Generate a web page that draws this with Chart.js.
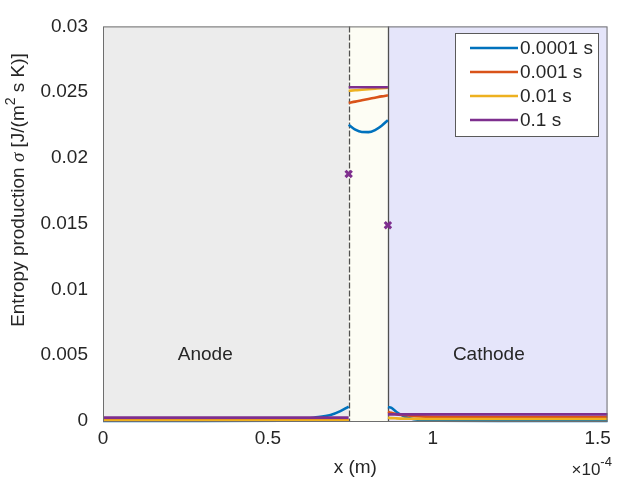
<!DOCTYPE html>
<html>
<head>
<meta charset="utf-8">
<script src="https://cdn.jsdelivr.net/npm/chart.js@4/dist/chart.umd.min.js"></script>
<style>
  html, body { margin: 0; padding: 0; background: #fff; }
  canvas { display: block; }
</style>
</head>
<body>
<canvas id="grafico" width="617" height="482"></canvas>
<script>
// x in units of 1e-4 m, sigma in J/(m^2 s K)
let seriesLabels = ["0.0001 s", "0.001 s", "0.01 s", "0.1 s"];
let seriesColors = ["#0072BD", "#D95319", "#EDB120", "#7E2F8E"];

let xRegions = [0, 0.745, 0.864, 1.53];
let regionColors = ["#ECECEC", "#FDFDF4", "#E5E5FA"];
let regionLabels = ["Anode", "Cathode"];
let regionLabelX = [0.31, 1.17];
let regionLabelY = [0.005, 0.005];

let xTicks = [0, 0.5, 1, 1.5];
let yTicks = [0, 0.005, 0.01, 0.015, 0.02, 0.025, 0.03];

let xAnode = [0, 0.3, 0.55, 0.6, 0.64, 0.69, 0.72, 0.745];
let anodeSigma = [
    [0.00001, 0.00001, 0.00003, 0.00012, 0.00025, 0.00046, 0.00075, 0.0011],
    [0.00005, 0.00005, 0.00005, 0.00005, 0.00005, 0.00005, 0.00005, 0.00005],
    [0.00003, 0.00003, 0.00003, 0.00003, 0.00003, 0.00003, 0.00003, 0.00003],
    [0.00026, 0.00026, 0.00026, 0.00026, 0.00026, 0.00026, 0.00026, 0.00026]
];

let xMembrane = [0.745, 0.765, 0.785, 0.805, 0.825, 0.845, 0.864];
let membraneSigma = [
    [0.02252, 0.02215, 0.02197, 0.02196, 0.02212, 0.02245, 0.02287],
    [0.02419, 0.02428, 0.02438, 0.02448, 0.02458, 0.02468, 0.02476],
    [0.02511, 0.02514, 0.02518, 0.02522, 0.02526, 0.0253, 0.02533],
    [0.02537, 0.02537, 0.02537, 0.02537, 0.02537, 0.02537, 0.02537]
];

let xCathode = [0.864, 0.875, 0.89, 0.91, 0.93, 0.96, 1.0, 1.2, 1.53];
let cathodeSigma = [
    [0.00105, 0.001, 0.00068, 0.0004, 0.0002, 0.00007, 0.00002, 0.00001, 0.00001],
    [0.0007, 0.00062, 0.00052, 0.00045, 0.0004, 0.00035, 0.00032, 0.0003, 0.0003],
    [0.00025, 0.00022, 0.0002, 0.00018, 0.00017, 0.00016, 0.00015, 0.00015, 0.00015],
    [0.0005, 0.0005, 0.0005, 0.0005, 0.0005, 0.0005, 0.0005, 0.0005, 0.0005]
];

let markerX = [0.745, 0.864];
let markerY = [0.01878, 0.01489];

let fontName = '"Liberation Sans", Arial, Helvetica, sans-serif';
let textColor = "#262626";
let frameColor = "#6e6e6e";

function buildSeries(i) {
    let pts = [];
    xAnode.forEach((x, j) => pts.push({ x: x, y: anodeSigma[i][j] }));
    pts.push({ x: xRegions[1], y: null });
    xMembrane.forEach((x, j) => pts.push({ x: x, y: membraneSigma[i][j] }));
    pts.push({ x: xRegions[2], y: null });
    xCathode.forEach((x, j) => pts.push({ x: x, y: cathodeSigma[i][j] }));
    return pts;
}

let datasets = seriesLabels.map((label, i) => ({
    label: label,
    data: buildSeries(i),
    borderColor: seriesColors[i],
    borderWidth: 2.6,
    pointRadius: 0,
    cubicInterpolationMode: "monotone",
    spanGaps: false,
    clip: 6,
    order: seriesLabels.length - i
}));

datasets.push({
    label: "markers",
    type: "scatter",
    data: markerX.map((x, j) => ({ x: x, y: markerY[j] })),
    showLine: false,
    pointStyle: "crossRot",
    pointRadius: 4.5,
    borderWidth: 3,
    borderColor: seriesColors[3],
    order: 0
});

let regionsPlugin = {
    id: "regions",
    beforeDatasetsDraw(chart) {
        let { ctx, chartArea, scales } = chart;
        ctx.save();
        for (let i = 0; i < regionColors.length; i++) {
            let x0 = scales.x.getPixelForValue(xRegions[i]);
            let x1 = scales.x.getPixelForValue(xRegions[i + 1]);
            ctx.fillStyle = regionColors[i];
            ctx.fillRect(x0, chartArea.top, x1 - x0, chartArea.bottom - chartArea.top);
        }
        // membrane boundaries
        ctx.strokeStyle = "#505050";
        ctx.lineWidth = 1.3;
        [1, 2].forEach((k) => {
            let xp = Math.round(scales.x.getPixelForValue(xRegions[k])) + 0.5;
            ctx.setLineDash(k === 1 ? [6, 2] : []);
            ctx.beginPath();
            ctx.moveTo(xp, chartArea.top);
            ctx.lineTo(xp, chartArea.bottom);
            ctx.stroke();
        });
        ctx.setLineDash([]);
        ctx.fillStyle = textColor;
        ctx.font = "19px " + fontName;
        ctx.textAlign = "center";
        ctx.textBaseline = "middle";
        regionLabels.forEach((t, i) => {
            ctx.fillText(t, scales.x.getPixelForValue(regionLabelX[i]), scales.y.getPixelForValue(regionLabelY[i]));
        });
        ctx.restore();
    },
    afterDraw(chart) {
        let { ctx, chartArea } = chart;
        ctx.save();
        // frame
        ctx.strokeStyle = frameColor;
        ctx.lineWidth = 1;
        ctx.strokeRect(chartArea.left + 0.5, chartArea.top + 0.5, chartArea.right - chartArea.left - 1, chartArea.bottom - chartArea.top);

        // legend
        let lx = 455, ly = 33, lw = 143, lh = 103;
        ctx.fillStyle = "#ffffff";
        ctx.fillRect(lx, ly, lw, lh);
        ctx.strokeStyle = "#5a5a5a";
        ctx.strokeRect(lx + 0.5, ly + 0.5, lw, lh);
        ctx.font = "19px " + fontName;
        ctx.textAlign = "left";
        ctx.textBaseline = "middle";
        seriesLabels.forEach((t, i) => {
            let yy = ly + 15 + i * 24;
            ctx.strokeStyle = seriesColors[i];
            ctx.lineWidth = 2.6;
            ctx.beginPath();
            ctx.moveTo(lx + 15, yy);
            ctx.lineTo(lx + 63, yy);
            ctx.stroke();
            ctx.fillStyle = textColor;
            ctx.fillText(t, lx + 65, yy + 1);
        });

        // x label and exponent
        ctx.fillStyle = textColor;
        ctx.textAlign = "center";
        ctx.textBaseline = "alphabetic";
        ctx.font = "19px " + fontName;
        ctx.fillText("x (m)", (chartArea.left + chartArea.right) / 2, chartArea.bottom + 52);
        ctx.textAlign = "left";
        let ex = chartArea.right - 36;
        ctx.font = "17px " + fontName;
        ctx.fillText("\u00d710", ex, chartArea.bottom + 54);
        let w10 = ctx.measureText("\u00d710").width;
        ctx.font = "13px " + fontName;
        ctx.fillText("-4", ex + w10, chartArea.bottom + 45);

        // y label with sigma and superscript
        ctx.translate(19, 190);
        ctx.rotate(-Math.PI / 2);
        let parts = [
            ["Entropy production ", "19px " + fontName, 0],
            ["\u03c3", "italic 19px 'Liberation Serif', 'DejaVu Serif', serif", 0],
            [" [J/(m", "19px " + fontName, 0],
            ["2", "14px " + fontName, -8],
            [" s K)]", "19px " + fontName, 0]
        ];
        let total = 0;
        parts.forEach((p) => { ctx.font = p[1]; total += ctx.measureText(p[0]).width; });
        let cx = -total / 2;
        ctx.textBaseline = "middle";
        parts.forEach((p) => {
            ctx.font = p[1];
            ctx.fillText(p[0], cx, p[2]);
            cx += ctx.measureText(p[0]).width;
        });
        ctx.restore();
    }
};

let grafico = new Chart(document.getElementById("grafico"), {
    type: "line",
    data: { datasets: datasets },
    options: {
        responsive: false,
        animation: false,
        devicePixelRatio: 1,
        layout: { padding: { top: 20, right: 8, left: 0, bottom: 0 } },
        plugins: {
            legend: { display: false },
            tooltip: { enabled: false }
        },
        scales: {
            x: {
                type: "linear",
                min: xRegions[0],
                max: xRegions[3],
                afterBuildTicks: (axis) => { axis.ticks = xTicks.map((v) => ({ value: v })); },
                afterFit: (axis) => { axis.height = 61; },
                grid: { display: false, drawTicks: false },
                border: { display: false },
                ticks: {
                    autoSkip: false,
                    maxRotation: 0,
                    padding: 6,
                    color: textColor,
                    font: { family: fontName, size: 19 },
                    callback: (v) => String(v)
                }
            },
            y: {
                type: "linear",
                min: yTicks[0],
                max: yTicks[yTicks.length - 1],
                afterBuildTicks: (axis) => { axis.ticks = yTicks.map((v) => ({ value: v })); },
                afterFit: (axis) => { axis.width = 103; },
                grid: { display: false, drawTicks: false },
                border: { display: false },
                ticks: {
                    padding: 15,
                    color: textColor,
                    font: { family: fontName, size: 19 },
                    callback: (v) => String(v)
                }
            }
        }
    },
    plugins: [regionsPlugin]
});
</script>
</body>
</html>
